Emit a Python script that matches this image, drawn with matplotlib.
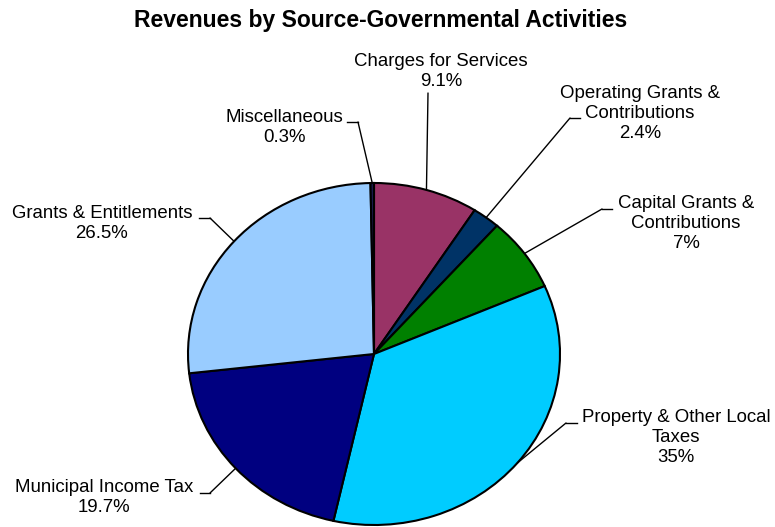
import numpy as np
import matplotlib
matplotlib.use("Agg")
import matplotlib.pyplot as plt
from matplotlib.lines import Line2D

plt.rcParams['font.family'] = ['Liberation Sans', 'DejaVu Sans']

# data, clockwise from 12 o'clock
sources = ['Charges for Services', 'Operating Grants &\nContributions',
           'Capital Grants &\nContributions', 'Property & Other Local\nTaxes',
           'Municipal Income Tax', 'Grants & Entitlements', 'Miscellaneous']
shares = [9.1, 2.4, 7, 35, 19.7, 26.5, 0.3]
colors = ['#993366', '#003366', '#008000', '#00CCFF', '#000080', '#99CCFF', '#1a1a4d']

W, H = 775, 527
fig = plt.figure(figsize=(W / 100, H / 100), dpi=100)

# pie box in pixels (the original is slightly squashed)
left, top, right, bottom = 188, 183, 560, 525
ax = fig.add_axes([left / W, 1 - bottom / H, (right - left) / W, (bottom - top) / H])
wedges, _ = ax.pie(shares, colors=colors, startangle=90, counterclock=False,
                   wedgeprops=dict(edgecolor='black', linewidth=1.5))
ax.set_aspect('auto')
ax.set_xlim(-1, 1)
ax.set_ylim(-1, 1)
ax.axis('off')
for w in wedges:
    w.set_clip_on(False)

# label layout: text centre x, first line y (px from top), leader start, stub other end
layout = [
    (441, 62, (428, 93), None),
    (640, 93, (570, 118), 580),
    (686, 204, (602, 209), 612),
    (676, 418, (566, 423), 577),
    (104, 488, (210, 493), 200),
    (102, 213, (210, 218), 199),
    (284, 118, (358, 122), 347),
]

def fy(y):
    return H - y

for w, name, val, (tx, ty, (sx, sy), stub) in zip(wedges, sources, shares, layout):
    lines = name.split('\n') + [f'{val:g}%']
    for i, line in enumerate(lines):
        fig.text(tx / W, fy(ty + 20 * i) / H, line, ha='center', va='center',
                 fontsize=13.4, color='black')
    ang = np.deg2rad((w.theta1 + w.theta2) / 2)
    ax.annotate('', xy=(np.cos(ang), np.sin(ang)), xycoords='data',
                xytext=(sx, fy(sy)), textcoords='figure pixels',
                arrowprops=dict(arrowstyle='-', color='black', lw=1,
                                shrinkA=0, shrinkB=0))
    if stub is not None:
        fig.add_artist(Line2D([sx / W, stub / W], [fy(sy) / H, fy(sy) / H],
                              color='black', lw=1))

fig.text(381 / W, fy(27) / H, 'Revenues by Source-Governmental Activities',
         ha='center', va='baseline', fontsize=16.5, fontweight='bold')

fig.savefig('out.png', dpi=100)
